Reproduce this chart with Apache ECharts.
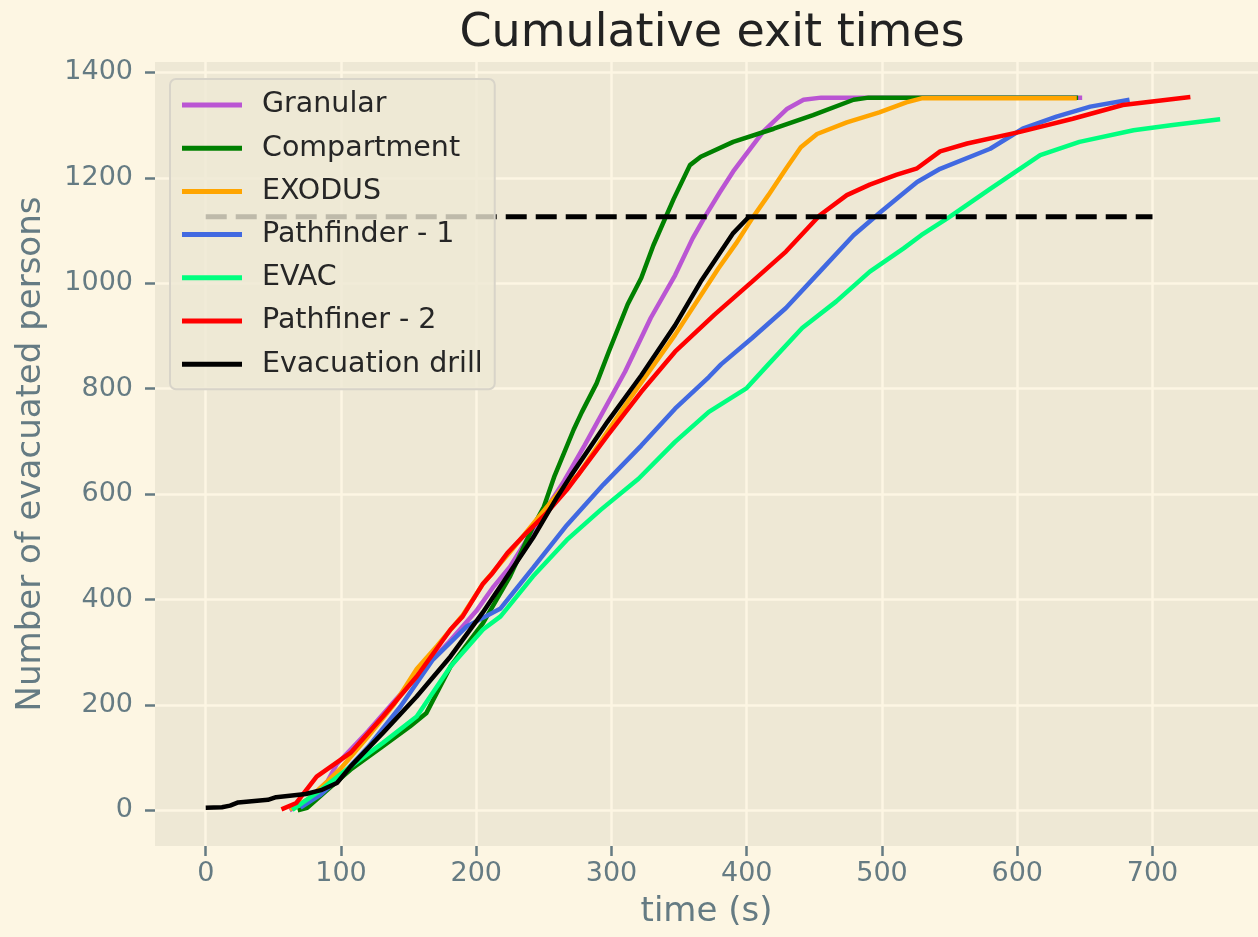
<!DOCTYPE html>
<html>
<head>
<meta charset="utf-8">
<script src="https://cdn.jsdelivr.net/npm/echarts@6/dist/echarts.min.js"></script>
<style>
html,body{margin:0;padding:0;background:#FDF6E3;}
#chart{width:1258px;height:937px;}
</style>
</head>
<body>
<div id="chart"></div>
<script>
// ---- data (time in s, cumulative evacuated persons) ----
const seriesNames = ['Granular','Compartment','EXODUS','Pathfinder - 1','EVAC','Pathfiner - 2','Evacuation drill'];
const seriesColors = ['#BA55D3','#008000','#FFA500','#4169E1','#00FF7F','#FF0000','#000000'];

const granular = [[62,0],[75,18],[90,55],[97,88],[120,150],[150,238],[180,320],[200,378],[213,425],[225,462],[250,565],[265,625],[280,692],[310,832],[329,934],[347,1015],[360,1085],[370,1130],[380,1172],[390,1212],[412,1287],[430,1331],[442,1348],[455,1352],[648,1352]];
const compartment = [[68,0],[75,5],[90,39],[107,77],[130,120],[151,159],[163,184],[181,273],[205,355],[225,444],[242,538],[250,576],[258,635],[272,722],[278,755],[289,810],[298,870],[312,960],[322,1010],[331,1072],[346,1160],[358,1224],[366,1240],[390,1268],[420,1293],[449,1319],[479,1348],[490,1352],[645,1352]];
const exodus = [[62,2],[75,20],[90,55],[100,80],[120,140],[139,200],[156,268],[171,312],[190,370],[205,430],[225,490],[245,553],[264,612],[275,635],[312,775],[347,902],[379,1028],[392,1075],[404,1123],[416,1167],[429,1217],[440,1258],[452,1283],[474,1305],[498,1324],[518,1343],[530,1351],[644,1351]];
const pathfinder1 = [[70,5],[85,30],[100,65],[120,120],[144,197],[168,286],[193,349],[218,383],[242,460],[267,541],[294,618],[322,692],[347,762],[372,822],[381,846],[404,896],[429,953],[454,1022],[479,1091],[499,1135],[514,1167],[526,1192],[543,1217],[580,1255],[604,1293],[629,1316],[654,1335],[683,1348]];
const evac = [[64,1],[82,33],[107,83],[131,128],[156,178],[181,273],[205,343],[218,368],[230,406],[242,444],[267,513],[292,570],[320,629],[347,699],[372,756],[400,801],[416,846],[441,915],[466,965],[491,1022],[516,1066],[529,1091],[550,1126],[580,1179],[617,1243],[646,1268],[686,1290],[715,1300],[750,1311]];
const pathfinder2 = [[56,2],[67,14],[82,64],[107,109],[131,178],[156,254],[181,343],[190,368],[205,430],[212,450],[223,488],[237,526],[252,564],[267,608],[282,659],[297,711],[322,794],[347,870],[376,940],[396,985],[404,1003],[429,1060],[454,1129],[474,1167],[491,1187],[511,1206],[526,1218],[543,1250],[563,1265],[602,1287],[641,1312],[678,1338],[728,1353]];
const drill = [[0,5],[12,6],[18,9],[24,15],[46,20],[52,25],[74,31],[86,39],[97,52],[107,83],[131,147],[156,216],[181,292],[205,376],[225,452],[242,517],[260,595],[270,635],[297,737],[322,825],[347,920],[366,1003],[379,1053],[390,1095],[402,1127]];
const targetLine = [[0,1126],[700,1126]];

const xTicks = [0,100,200,300,400,500,600,700];
const yTicks = [0,200,400,600,800,1000,1200,1400];

const allData = [granular, compartment, exodus, pathfinder1, evac, pathfinder2, drill];

const FONT = 'DejaVu Sans';
const TICKC = '#657b83';

const chart = echarts.init(document.getElementById('chart'), null, {renderer:'canvas'});

const series = allData.map((d, i) => ({
  name: seriesNames[i],
  type: 'line',
  data: d,
  symbol: 'none',
  showSymbol: false,
  color: seriesColors[i],
  lineStyle: {width: 4.5, color: seriesColors[i]},
  z: 2 + i * 0.01,
  silent: true
}));
series.push({
  name: 'target',
  type: 'line',
  data: targetLine,
  symbol: 'none',
  lineStyle: {width: 5, color: '#000', type: [21, 9]},
  z: 3,
  silent: true
});

chart.setOption({
  animation: false,
  backgroundColor: '#FDF6E3',
  title: {
    text: 'Cumulative exit times',
    left: 712,
    top: 11,
    padding: 0,
    textAlign: 'center',
    textStyle: {fontFamily: FONT, fontSize: 46, fontWeight: 'normal', color: '#222222'}
  },
  grid: {
    left: 155, right: 0, top: 62, bottom: 91,
    show: true, backgroundColor: '#EEE8D5', borderWidth: 0
  },
  legend: {
    data: seriesNames,
    orient: 'vertical',
    left: 170, top: 79,
    padding: [11, 12, 10, 12],
    itemGap: 13.2,
    itemWidth: 60,
    itemHeight: 5,
    icon: 'rect',
    selectedMode: false,
    backgroundColor: 'rgba(238,232,213,0.8)',
    borderColor: '#d8d4c9',
    borderWidth: 2,
    borderRadius: 6,
    textStyle: {fontFamily: FONT, fontSize: 28.5, color: '#262626', lineHeight: 30, padding: [0, 0, 0, 15]}
  },
  xAxis: {
    type: 'value',
    min: -37.5, max: 778,
    name: 'time (s)',
    nameLocation: 'middle',
    nameGap: 49,
    nameTextStyle: {fontFamily: FONT, fontSize: 34, color: TICKC},
    axisLine: {show: false, onZero: false},
    axisTick: {show: true, length: 10, lineStyle: {color: TICKC, width: 2.5}, customValues: xTicks},
    axisLabel: {fontFamily: FONT, fontSize: 27, color: TICKC, margin: 14, customValues: xTicks, formatter: v => String(v)},
    splitLine: {show: true, lineStyle: {color: '#FDF6E3', width: 2.5}}
  },
  yAxis: {
    type: 'value',
    min: -67.6, max: 1419.6,
    name: 'Number of evacuated persons',
    nameLocation: 'middle',
    nameGap: 107,
    nameTextStyle: {fontFamily: FONT, fontSize: 34, color: TICKC},
    axisLine: {show: false, onZero: false},
    axisTick: {show: true, length: 10, lineStyle: {color: TICKC, width: 2.5}, customValues: yTicks},
    axisLabel: {fontFamily: FONT, fontSize: 27, color: TICKC, margin: 22, customValues: yTicks, formatter: v => String(v)},
    splitLine: {show: true, lineStyle: {color: '#FDF6E3', width: 2.5}}
  },
  series: series
});
</script>
</body>
</html>
